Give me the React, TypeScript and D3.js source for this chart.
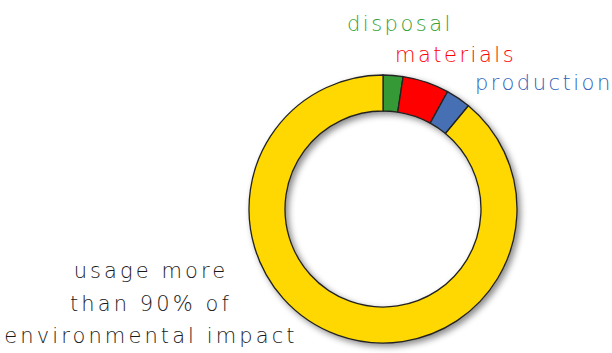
import React from "react";
import * as d3 from "d3";

const categories = ["disposal", "materials", "production", "usage"];
const values = [2.4, 5.6, 3.0, 89.0];
const colors = ["#349a34", "#ff0000", "#4670b4", "#fed800"];
const labelColors = ["#33a033", "#ff0000", "#2f62bb"];
const usageLines = ["usage more", "than 90% of", "environmental impact"];

export default function App() {
  const W = 612, H = 353;
  const cx = 383, cy = 209, rOuter = 134, rInner = 98;
  const pie = d3.pie<number>().sort(null).value((d) => d);
  const arcs = pie(values);
  const arc = d3.arc<d3.PieArcDatum<number>>().innerRadius(rInner).outerRadius(rOuter);
  const font = "'DejaVu Sans', sans-serif";
  const labelPos = [
    { x: 347, y: 31 },
    { x: 395, y: 62 },
    { x: 475, y: 90 },
  ];
  return (
    <svg width={W} height={H} style={{ position: "absolute", left: 0, top: 0 }}>
      <defs>
        <filter id="sh" x="-20%" y="-20%" width="140%" height="140%">
          <feDropShadow dx="3" dy="3" stdDeviation="3" floodColor="#000" floodOpacity="0.45" />
        </filter>
      </defs>
      <rect width={W} height={H} fill="#fff" />
      <g transform={`translate(${cx},${cy})`} filter="url(#sh)">
        {arcs.map((a, i) => (
          <path key={i} d={arc(a) || ""} fill={colors[i]} stroke="#222" strokeWidth={1.3} />
        ))}
      </g>
      {categories.slice(0, 3).map((c, i) => (
        <text key={c} x={labelPos[i].x} y={labelPos[i].y} fill={labelColors[i]}
          fontFamily={font} fontSize={21} fontWeight={200} letterSpacing={2.5}>
          {c}
        </text>
      ))}
      {usageLines.map((t, i) => (
        <text key={t} x={151} y={278 + i * 32.5} textAnchor="middle" fill="#1a1a1a"
          fontFamily={font} fontSize={21} fontWeight={200} letterSpacing={3.1}>
          {t}
        </text>
      ))}
    </svg>
  );
}
